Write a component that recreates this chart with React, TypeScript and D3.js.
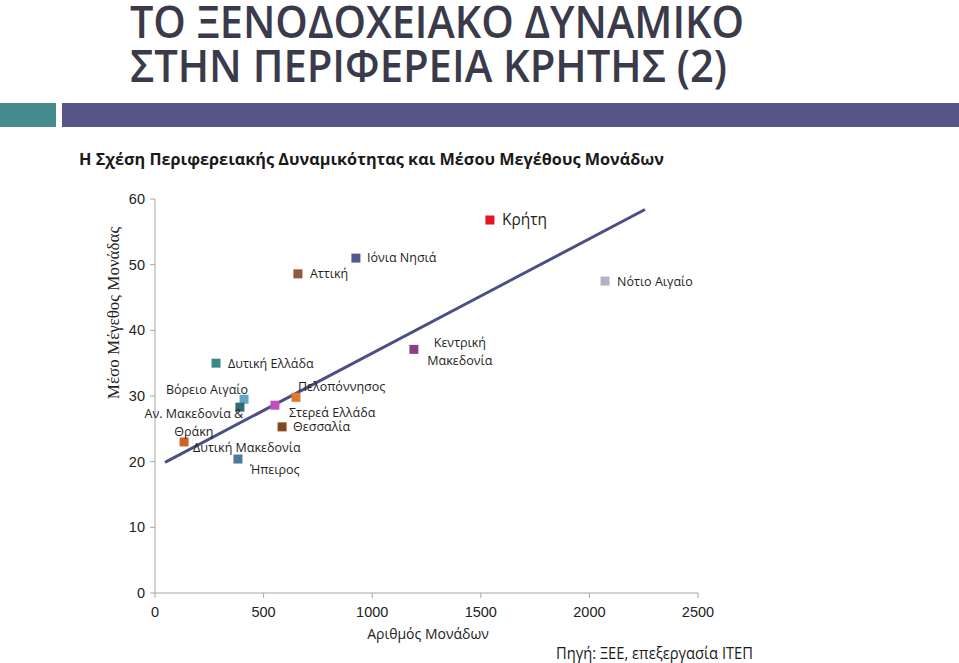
import React from "react";
import * as d3 from "d3";

const regions = [
  "Κρήτη", "Ιόνια Νησιά", "Αττική", "Νότιο Αιγαίο", "Κεντρική Μακεδονία",
  "Δυτική Ελλάδα", "Βόρειο Αιγαίο", "Πελοπόννησος", "Αν. Μακεδονία & Θράκη",
  "Στερεά Ελλάδα", "Θεσσαλία", "Δυτική Μακεδονία", "Ήπειρος",
];
const units = [1542, 925, 658, 2072, 1192, 281, 410, 649, 391, 552, 585, 134, 382];
const avgSize = [56.8, 51.0, 48.6, 47.5, 37.1, 35.0, 29.5, 29.8, 28.3, 28.6, 25.3, 23.0, 20.4];
const colors = [
  "#e8141c", "#515b8f", "#8f5a3a", "#b3b3c6", "#8a3f86", "#3b8886", "#62a6cc",
  "#e0792f", "#2f6c73", "#c24fc0", "#84481f", "#d0612c", "#4a7b9c",
];
const labelLines: string[][] = [
  ["Κρήτη"], ["Ιόνια Νησιά"], ["Αττική"], ["Νότιο Αιγαίο"], ["Κεντρική", "Μακεδονία"],
  ["Δυτική Ελλάδα"], ["Βόρειο Αιγαίο"], ["Πελοπόννησος"], ["Αν. Μακεδονία &", "Θράκη"],
  ["Στερεά Ελλάδα"], ["Θεσσαλία"], ["Δυτική Μακεδονία"], ["Ήπειρος"],
];
// label placement relative to marker (dx, dy of first line, anchor, font size)
const labelPlace: [number, number, string, number][] = [
  [12, 0, "start", 15.5], [11, 0, "start", 12.5], [12, 0, "start", 12.5], [12, 1, "start", 12.5],
  [46, -7, "middle", 12.5], [12, 0, "start", 12.5], [4, -10, "end", 12.5], [2, -11, "start", 12.5],
  [-46, 6, "middle", 12.5], [14, 7, "start", 12.5], [11, 0, "start", 12.5], [9, 6, "start", 12.5],
  [12, 11, "start", 12.5],
];
const trendX = [46, 2256];
const trendY = [19.9, 58.4];
const xTicks = [0, 500, 1000, 1500, 2000, 2500];
const yTicks = [0, 10, 20, 30, 40, 50, 60];

export default function App() {
  const x = d3.scaleLinear().domain([0, 2500]).range([155, 698]);
  const y = d3.scaleLinear().domain([0, 60]).range([593, 199]);
  const line = d3.line<number>().x((d) => x(trendX[d])).y((d) => y(trendY[d]));
  const calibri = "'Open Sans', 'Noto Sans', sans-serif";
  const arial = "'Liberation Sans', Arial, sans-serif";
  return (
    <svg width={959} height={663} style={{ position: "absolute", left: 0, top: 0, background: "#fff" }}>
      <text x={130} y={38} fontFamily={calibri} fontWeight={600} fontSize={46} fill="#3a3a4a"
        textLength={614} lengthAdjust="spacingAndGlyphs">ΤΟ ΞΕΝΟΔΟΧΕΙΑΚΟ ΔΥΝΑΜΙΚΟ</text>
      <text x={130} y={82} fontFamily={calibri} fontWeight={600} fontSize={46} fill="#3a3a4a"
        textLength={597} lengthAdjust="spacingAndGlyphs">ΣΤΗΝ ΠΕΡΙΦΕΡΕΙΑ ΚΡΗΤΗΣ (2)</text>
      <rect x={0} y={103} width={56} height={24} fill="#468b8d" />
      <rect x={62} y={103} width={897} height={24} fill="#555587" />
      <text x={79} y={165} fontFamily={calibri} fontWeight={700} fontSize={16.5} fill="#1a1a1a"
        textLength={585} lengthAdjust="spacingAndGlyphs">Η Σχέση Περιφερειακής Δυναμικότητας και Μέσου Μεγέθους Μονάδων</text>

      <line x1={x(0)} x2={x(0)} y1={y(60)} y2={y(0)} stroke="#a6a6a6" strokeWidth={1} />
      <line x1={x(0)} x2={x(2500)} y1={y(0)} y2={y(0)} stroke="#a6a6a6" strokeWidth={1} />
      {yTicks.map((t) => (
        <g key={"y" + t}>
          <line x1={x(0) - 5} x2={x(0)} y1={y(t)} y2={y(t)} stroke="#a6a6a6" />
          <text x={x(0) - 10} y={y(t)} dy="0.35em" textAnchor="end" fontFamily={arial} fontSize={14.5} fill="#222">{t}</text>
        </g>
      ))}
      {xTicks.map((t) => (
        <g key={"x" + t}>
          <line x1={x(t)} x2={x(t)} y1={y(0)} y2={y(0) + 5} stroke="#a6a6a6" />
          <text x={x(t)} y={617} textAnchor="middle" fontFamily={arial} fontSize={14.5} fill="#222">{t}</text>
        </g>
      ))}
      <text x={428} y={639} textAnchor="middle" fontFamily={calibri} fontSize={14} fill="#222">Αριθμός Μονάδων</text>
      <text transform={`translate(119,${313}) rotate(-90)`} textAnchor="middle" fontFamily="'Liberation Serif', 'DejaVu Serif', serif"
        fontSize={17} fill="#222">Μέσο Μέγεθος Μονάδας</text>

      <path d={line([0, 1]) || ""} stroke="#4c4f86" strokeWidth={3} fill="none" />

      {regions.map((r, i) => (
        <rect key={r} x={x(units[i]) - 4.5} y={y(avgSize[i]) - 4.5} width={9} height={9} fill={colors[i]} />
      ))}
      {regions.map((r, i) => {
        const [dx, dy, anchor, fs] = labelPlace[i];
        const lines = labelLines[i];
        const cx = x(units[i]) + dx;
        const cy = y(avgSize[i]) + dy;
        return (
          <g key={"l" + r}>
            {lines.map((l, k) => (
              <text key={k} x={cx} y={cy + k * 18.5} dy="0.35em" textAnchor={anchor}
                fontFamily={calibri} fontSize={fs} fill="#1e1e1e">{l}</text>
            ))}
          </g>
        );
      })}

      <text x={556} y={659} fontFamily={calibri} fontSize={15.5} fill="#1a1a1a"
        textLength={197} lengthAdjust="spacingAndGlyphs">Πηγή: ΞΕΕ, επεξεργασία ΙΤΕΠ</text>
    </svg>
  );
}
